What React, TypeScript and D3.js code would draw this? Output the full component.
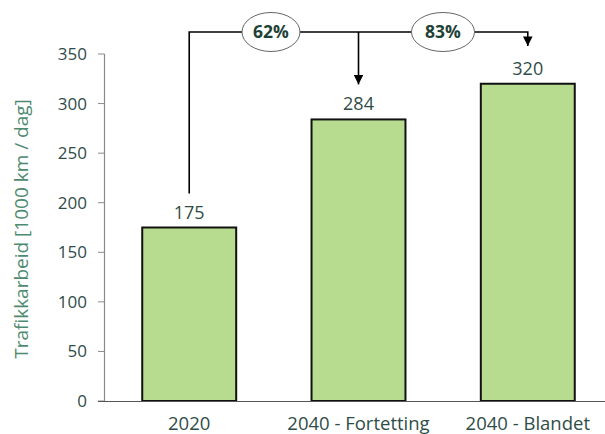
import React from "react";
import * as d3 from "d3";

const categories = ["2020", "2040 - Fortetting", "2040 - Blandet"];
const values = [175, 284, 320];
const yTicks = [0, 50, 100, 150, 200, 250, 300, 350];
const changeLabels = ["62%", "83%"];
const yLabel = "Trafikkarbeid [1000 km / dag]";

const W = 605, H = 434;
const FONT = "'Open Sans', 'Noto Sans', sans-serif";

export default function App() {
  const y = d3.scaleLinear().domain([0, 350]).range([401, 54]);
  const x = d3.scaleBand().domain(categories).range([105, 612]).paddingInner(0.445).paddingOuter(0.22);
  const bw = x.bandwidth();
  const cx = (c: string) => (x(c) as number) + bw / 2;
  const lineY = 32;
  const c0 = cx(categories[0]), c1 = cx(categories[1]), c2 = cx(categories[2]);
  const e1x = 271, e2x = 443;
  return (
    <svg width={W} height={H} style={{ position: "absolute", left: 0, top: 0 }}>
      <defs>
        <marker id="arr" viewBox="0 0 10 10" refX="10" refY="5" markerWidth="6" markerHeight="6" orient="auto">
          <path d="M0,0 L10,5 L0,10 z" fill="#000" />
        </marker>
      </defs>
      {/* y axis */}
      <line x1={104.5} x2={104.5} y1={y(350)} y2={y(0)} stroke="#8a8a8a" strokeWidth={1.2} />
      {yTicks.map((t) => (
        <g key={t}>
          <line x1={98} x2={104.5} y1={y(t)} y2={y(t)} stroke="#8a8a8a" strokeWidth={1} />
          <text x={87} y={y(t)} dy="0.35em" textAnchor="end" fontSize={17} fill="#2f4d47" fontFamily={FONT}>{t}</text>
        </g>
      ))}
      <text transform={`translate(28,229) rotate(-90)`} textAnchor="middle" fontSize={19} fill="#4e8a70" fontFamily={FONT}>{yLabel}</text>
      {/* bars */}
      {categories.map((c, i) => (
        <g key={c}>
          <rect x={x(c)} y={y(values[i])} width={bw} height={y(0) - y(values[i])} fill="#b7dc8f" stroke="#111" strokeWidth={2} />
          <text x={cx(c)} y={y(values[i]) - 9} textAnchor="middle" fontSize={18} fill="#2f4d47" fontFamily={FONT}>{values[i]}</text>
          <text x={cx(c)} y={430} textAnchor="middle" fontSize={18.5} fill="#2f4d47" fontFamily={FONT}>{c}</text>
        </g>
      ))}
      <line x1={98} x2={605} y1={401.5} y2={401.5} stroke="#555" strokeWidth={1.2} />
      {/* annotation */}
      <polyline points={`${c0},${y(values[0]) - 34} ${c0},${lineY} ${c2},${lineY} ${c2},${lineY + 14}`} fill="none" stroke="#000" strokeWidth={1.6} markerEnd="url(#arr)" />
      <line x1={c1} x2={c1} y1={lineY} y2={y(values[1]) - 35} stroke="#000" strokeWidth={1.6} markerEnd="url(#arr)" />
      <ellipse cx={e1x} cy={lineY} rx={29} ry={19.5} fill="#fff" stroke="#666" strokeWidth={1} />
      <text x={e1x} y={lineY} dy="0.36em" textAnchor="middle" fontSize={17.5} fontWeight="bold" fill="#1e4236" fontFamily={FONT}>{changeLabels[0]}</text>
      <ellipse cx={e2x} cy={lineY} rx={31.5} ry={19.5} fill="#fff" stroke="#666" strokeWidth={1} />
      <text x={e2x} y={lineY} dy="0.36em" textAnchor="middle" fontSize={17.5} fontWeight="bold" fill="#1e4236" fontFamily={FONT}>{changeLabels[1]}</text>
    </svg>
  );
}
